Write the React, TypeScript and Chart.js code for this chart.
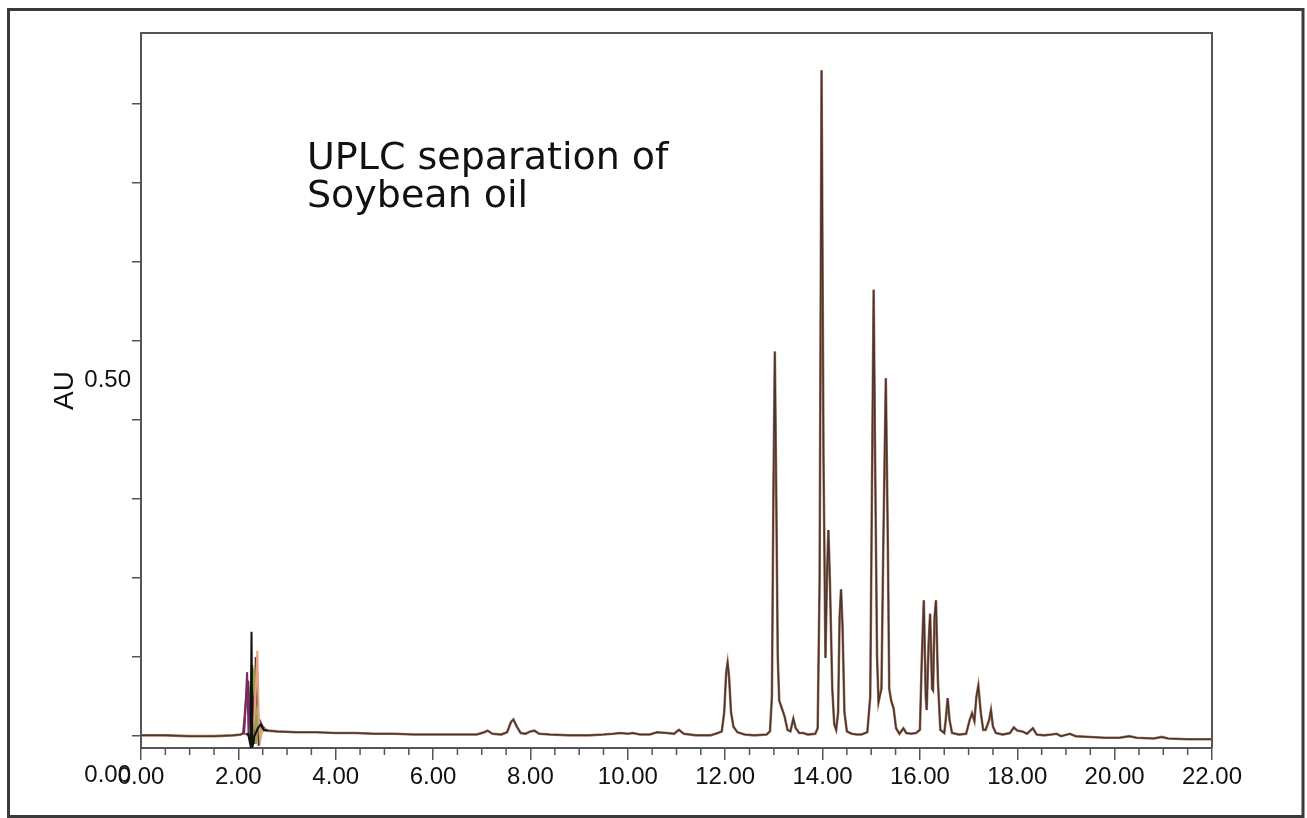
import React, { useEffect, useRef } from "react";
import { Chart, registerables } from "chart.js";

Chart.register(...registerables);

// ---------- data ----------
const X_MIN = 0;
const X_MAX = 22;
const Y_MIN = -0.015;
const Y_MAX = 0.89;

const xMajorTicks = [0, 2, 4, 6, 8, 10, 12, 14, 16, 18, 20, 22];
const yTickValues = [0, 0.1, 0.2, 0.3, 0.4, 0.5, 0.6, 0.7, 0.8];
const yLabelValues = [0, 0.5];

const titleLines = ["UPLC separation of", "Soybean oil"];
const yAxisTitle = "AU";

// main chromatogram (retention time, min)
const mainTimes = [
  0.0, 0.5, 1.0, 1.5, 1.9, 2.05, 2.1, 2.15, 2.2, 2.24, 2.28, 2.32, 2.36, 2.42, 2.46, 2.5, 2.56,
  2.6, 2.8, 3.2, 3.6, 4.0, 4.4, 4.8, 5.2, 5.6, 6.0, 6.5, 6.9, 7.05, 7.12, 7.22, 7.4, 7.52, 7.6,
  7.65, 7.72, 7.8, 7.9, 8.0, 8.08, 8.18, 8.4, 8.8, 9.2, 9.5, 9.7, 9.85, 10.0, 10.1, 10.25, 10.45,
  10.6, 10.8, 10.95, 11.05, 11.15, 11.4, 11.7, 11.85, 11.93, 11.98, 12.02, 12.05, 12.08, 12.12,
  12.17, 12.25, 12.4, 12.6, 12.85, 12.92, 12.96, 12.99, 13.02, 13.05, 13.08, 13.11, 13.16, 13.22,
  13.28, 13.34, 13.4, 13.45, 13.52, 13.6, 13.7, 13.85, 13.9, 13.94, 13.98, 14.02, 14.06, 14.09,
  14.12, 14.15, 14.2, 14.24, 14.28, 14.32, 14.35, 14.38, 14.41, 14.45, 14.5, 14.6, 14.7, 14.8,
  14.92, 14.98, 15.02, 15.05, 15.08, 15.12, 15.15, 15.18, 15.21, 15.25, 15.3, 15.34, 15.37,
  15.41, 15.46, 15.51, 15.58, 15.66, 15.72, 15.82, 15.92, 16.0, 16.04, 16.08, 16.12, 16.14,
  16.18, 16.21, 16.25, 16.27, 16.3, 16.33, 16.37, 16.42, 16.5, 16.53, 16.57, 16.61, 16.66, 16.8,
  16.95, 17.02, 17.07, 17.12, 17.16, 17.2, 17.25, 17.3, 17.35, 17.42, 17.46, 17.5, 17.56, 17.7,
  17.85, 17.93, 18.0, 18.1, 18.2, 18.32, 18.4, 18.55, 18.7, 18.81, 18.9, 19.08, 19.2, 19.5,
  19.8, 20.1, 20.3, 20.45, 20.8, 20.97, 21.1, 21.5, 22.0,
];
// absorbance (AU)
const mainValues = [
  0.001, 0.001, 0.0, 0.0, 0.001, 0.002, 0.004, 0.04, 0.07, 0.02, 0.09, -0.01, 0.1, -0.012, 0.016,
  0.012, 0.008, 0.007, 0.006, 0.005, 0.005, 0.004, 0.004, 0.003, 0.003, 0.002, 0.002, 0.002,
  0.002, 0.005, 0.007, 0.003, 0.002, 0.005, 0.018, 0.021, 0.012, 0.004, 0.003, 0.006, 0.007,
  0.003, 0.002, 0.001, 0.001, 0.002, 0.003, 0.004, 0.003, 0.004, 0.002, 0.002, 0.005, 0.004,
  0.003, 0.008, 0.003, 0.001, 0.001, 0.004, 0.006, 0.03, 0.08, 0.093, 0.075, 0.03, 0.012, 0.005,
  0.002, 0.001, 0.002, 0.006, 0.05, 0.3, 0.487, 0.3, 0.1, 0.045, 0.036, 0.025, 0.008, 0.006,
  0.022, 0.01, 0.004, 0.004, 0.002, 0.003, 0.01, 0.2, 0.843, 0.35, 0.099, 0.2, 0.261, 0.2, 0.06,
  0.015, 0.008, 0.03, 0.15, 0.186, 0.14, 0.03, 0.006, 0.003, 0.002, 0.002, 0.005, 0.05, 0.35,
  0.565, 0.35, 0.1, 0.043, 0.052, 0.06, 0.25, 0.453, 0.25, 0.06, 0.045, 0.035, 0.01, 0.003,
  0.01, 0.004, 0.003, 0.004, 0.008, 0.1, 0.172, 0.05, 0.033, 0.12, 0.155, 0.06, 0.058, 0.15,
  0.172, 0.07, 0.008, 0.004, 0.02, 0.048, 0.02, 0.004, 0.002, 0.003, 0.02, 0.029, 0.019, 0.05,
  0.064, 0.03, 0.008, 0.008, 0.02, 0.033, 0.012, 0.004, 0.002, 0.004, 0.011, 0.007, 0.006,
  0.003, 0.01, 0.002, 0.001, 0.002, 0.003, 0.0, 0.003, 0.0, -0.001, -0.002, -0.002, 0.0, -0.002,
  -0.003, -0.001, -0.003, -0.004, -0.004,
];

// overlaid injections near the solvent front
const blackTimes = [2.15, 2.2, 2.25, 2.27, 2.29, 2.33, 2.4, 2.46, 2.52, 2.6];
const blackValues = [0.002, 0.003, -0.012, 0.132, -0.014, 0.0, 0.01, 0.015, 0.008, 0.007];

const pinkTimes = [2.25, 2.3, 2.36, 2.39, 2.42, 2.45, 2.5, 2.58];
const pinkValues = [0.003, 0.0, 0.06, 0.108, 0.02, -0.005, 0.01, 0.007];

const purpleTimes = [2.1, 2.12, 2.18, 2.21, 2.26, 2.3, 2.36, 2.44, 2.5, 2.58];
const purpleValues = [0.003, 0.003, 0.081, 0.0, 0.058, 0.05, 0.02, 0.02, 0.01, 0.007];

const greenTimes = [2.2, 2.24, 2.3, 2.33, 2.36, 2.4, 2.46, 2.54];
const greenValues = [0.003, 0.0, 0.07, 0.086, -0.01, 0.03, 0.005, 0.007];

const toPoints = (xs: number[], ys: number[]) => xs.map((x, i) => ({ x, y: ys[i] }));

const TICK_FONT = '"Liberation Sans", Arial, Helvetica, sans-serif';

const decorPlugin = {
  id: "decor",
  beforeDraw(chart: any) {
    const { ctx, width, height } = chart;
    ctx.save();
    ctx.fillStyle = "#ffffff";
    ctx.fillRect(0, 0, width, height);
    ctx.restore();
  },
  afterDraw(chart: any) {
    const { ctx, chartArea } = chart;
    const xs = chart.scales.x;
    ctx.save();
    // outer frame
    ctx.strokeStyle = "#3a3a3a";
    ctx.lineWidth = 3;
    ctx.strokeRect(8.5, 9.5, 1294.5, 807);
    // plot box top & right
    ctx.strokeStyle = "#555555";
    ctx.lineWidth = 2;
    ctx.beginPath();
    ctx.moveTo(chartArea.left, chartArea.top);
    ctx.lineTo(chartArea.right, chartArea.top);
    ctx.lineTo(chartArea.right, chartArea.bottom);
    ctx.stroke();
    // minor x ticks every 0.5 min
    ctx.lineWidth = 1.5;
    ctx.beginPath();
    for (let v = X_MIN; v <= X_MAX + 1e-9; v += 0.5) {
      if (Math.abs(v / 2 - Math.round(v / 2)) < 1e-9) continue;
      const px = xs.getPixelForValue(v);
      ctx.moveTo(px, chartArea.bottom);
      ctx.lineTo(px, chartArea.bottom + 7);
    }
    ctx.stroke();
    // annotation title
    ctx.fillStyle = "#111111";
    ctx.font = '38px "DejaVu Sans", sans-serif';
    ctx.textBaseline = "alphabetic";
    ctx.textAlign = "left";
    ctx.fillText(titleLines[0], 307, 169);
    ctx.fillText(titleLines[1], 307, 207);
    ctx.restore();
  },
};

export default function App() {
  const ref = useRef<HTMLCanvasElement | null>(null);
  useEffect(() => {
    if (!ref.current) return;
    const chart = new Chart(ref.current, {
      type: "line",
      data: {
        datasets: [
          { data: toPoints(blackTimes, blackValues), borderColor: "#111111", borderWidth: 2 },
          { data: toPoints(pinkTimes, pinkValues), borderColor: "#e9a27e", borderWidth: 2 },
          { data: toPoints(greenTimes, greenValues), borderColor: "#93a34a", borderWidth: 2 },
          { data: toPoints(purpleTimes, purpleValues), borderColor: "#7a2a66", borderWidth: 2 },
          { data: toPoints(mainTimes, mainValues), borderColor: "#4a3530", borderWidth: 1.5 },
          { data: toPoints(mainTimes, mainValues), borderColor: "#a97a60", borderWidth: 2.6 },
        ].map((d) => ({ ...d, pointRadius: 0, tension: 0, fill: false })),
      },
      options: {
        animation: false,
        responsive: false,
        devicePixelRatio: 1,
        layout: { padding: { top: 33, right: 95, left: 0, bottom: 0 } },
        plugins: { legend: { display: false }, tooltip: { enabled: false }, title: { display: false } },
        scales: {
          x: {
            type: "linear",
            min: X_MIN,
            max: X_MAX,
            afterFit: (s: any) => {
              s.height = 70;
            },
            afterBuildTicks: (s: any) => {
              s.ticks = xMajorTicks.map((value) => ({ value }));
            },
            grid: { drawOnChartArea: false, drawTicks: true, tickLength: 12, color: "#555555", lineWidth: 1.5 },
            border: { display: true, color: "#555555", width: 2 },
            ticks: {
              autoSkip: false,
              maxRotation: 0,
              padding: 3,
              color: "#111111",
              font: { family: TICK_FONT, size: 24 },
              callback: (v: any) => Number(v).toFixed(2),
            },
          },
          y: {
            type: "linear",
            min: Y_MIN,
            max: Y_MAX,
            afterFit: (s: any) => {
              s.width = 141;
            },
            afterBuildTicks: (s: any) => {
              s.ticks = yTickValues.map((value) => ({ value }));
            },
            grid: { drawOnChartArea: false, drawTicks: true, tickLength: 9, color: "#555555", lineWidth: 1.5 },
            border: { display: true, color: "#555555", width: 2 },
            title: {
              display: true,
              text: yAxisTitle,
              color: "#111111",
              font: { family: TICK_FONT, size: 28 },
              padding: { top: 48, bottom: 0 },
            },
            ticks: {
              autoSkip: false,
              padding: 1,
              labelOffset: 39,
              color: "#111111",
              font: { family: TICK_FONT, size: 24 },
              callback: (v: any) => {
                const n = Number(v);
                return yLabelValues.some((l) => Math.abs(l - n) < 1e-9) ? n.toFixed(2) : "";
              },
            },
          },
        },
      },
      plugins: [decorPlugin],
    });
    return () => chart.destroy();
  }, []);
  return (
    <div style={{ position: "fixed", left: 0, top: 0, width: 1307, height: 818, background: "#fff" }}>
      <canvas ref={ref} width={1307} height={818} style={{ display: "block" }} />
    </div>
  );
}
